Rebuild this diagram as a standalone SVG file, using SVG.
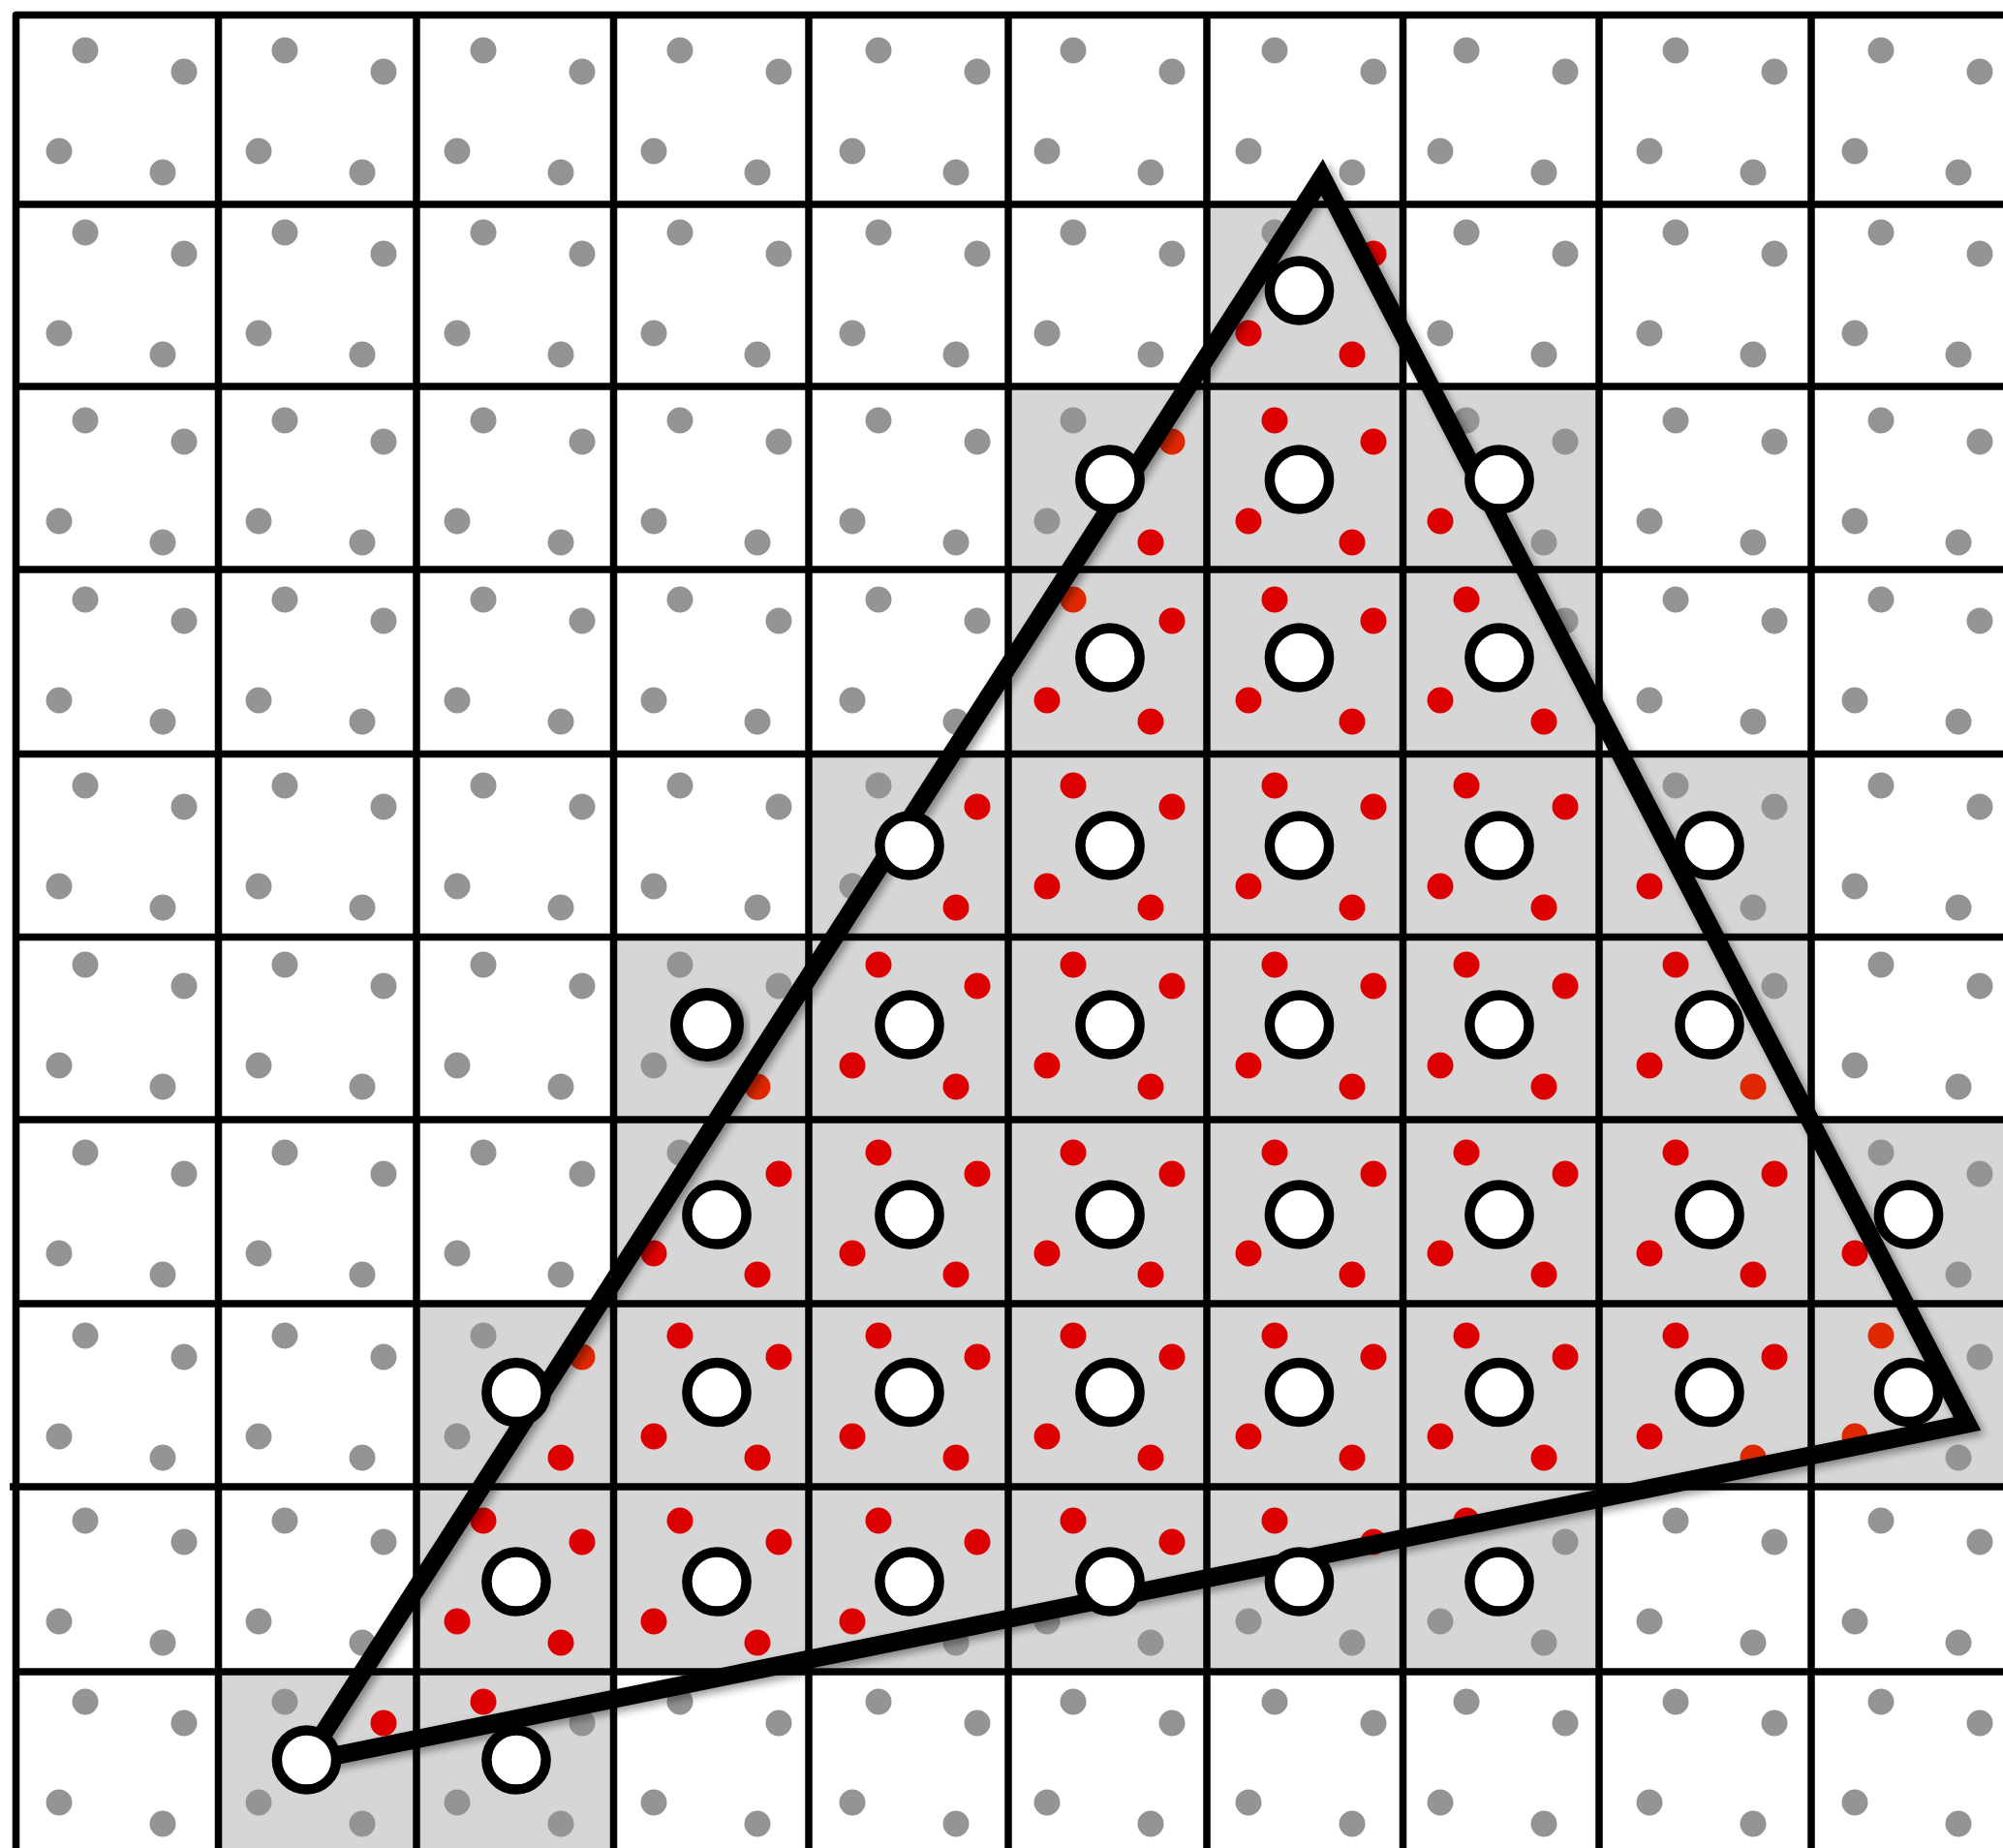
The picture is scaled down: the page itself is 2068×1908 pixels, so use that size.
<svg xmlns="http://www.w3.org/2000/svg" width="2068" height="1908" viewBox="0 0 2068 1908">
<style>
.g{fill:#949494}
.r{fill:#dd0000}
.o{fill:#e02800}
.shade{fill:#d6d6d6}
.grid{fill:none;stroke:#000;stroke-width:7.5;stroke-linejoin:round}
.tri{fill:none;stroke:#000;stroke-width:19;stroke-linejoin:miter;stroke-miterlimit:10}
.px{fill:#fff;stroke:#000;stroke-width:10.5}
</style>
<defs>
<g id="q"><circle cx="0" cy="0" r="13.5"/><circle cx="102" cy="22" r="13.5"/><circle cx="-27" cy="104" r="13.5"/><circle cx="80" cy="126" r="13.5"/></g>
<filter id="sh" x="-10%" y="-10%" width="130%" height="130%"><feDropShadow dx="4" dy="4" stdDeviation="4" flood-color="#000" flood-opacity="0.4"/></filter>
</defs>
<rect width="2068" height="1908" fill="#fff"/>
<g id="shading" class="shade">
<rect x="1246" y="211" width="202.5" height="188"/>
<rect x="1041" y="399" width="610" height="189"/>
<rect x="1041" y="588" width="610" height="190.5"/>
<rect x="835" y="778.5" width="1035" height="189"/>
<rect x="633.5" y="967.5" width="1236.5" height="188.5"/>
<rect x="633.5" y="1156" width="1434.5" height="190"/>
<rect x="430" y="1346" width="1638" height="189"/>
<rect x="430" y="1535" width="1221" height="191"/>
<rect x="225.5" y="1726" width="408" height="182"/>
</g>
<g id="grid" class="grid">
<path d="M16.5,1908 V15.5 H2068"/>
<path d="M16.5,211 H2068 M16.5,399 H2068 M16.5,588 H2068 M16.5,778.5 H2068 M16.5,967.5 H2068 M16.5,1156 H2068 M16.5,1346 H2068 M10,1535 H2068 M16.5,1726 H2068"/>
<path d="M225.5,15.5 V1908 M430,15.5 V1908 M633.5,15.5 V1908 M835,15.5 V1908 M1041,15.5 V1908 M1246,15.5 V1908 M1448.5,15.5 V1908 M1651,15.5 V1908 M1870,15.5 V1908"/>
</g>
<g id="samples">
<!-- row 0 -->
<use href="#q" class="g" x="88" y="52"/><use href="#q" class="g" x="294" y="52"/><use href="#q" class="g" x="499" y="52"/><use href="#q" class="g" x="702" y="52"/><use href="#q" class="g" x="907" y="52"/><use href="#q" class="g" x="1108" y="52"/><use href="#q" class="g" x="1316" y="52"/><use href="#q" class="g" x="1514" y="52"/><use href="#q" class="g" x="1730" y="52"/><use href="#q" class="g" x="1942" y="52"/>
<!-- row 1 -->
<use href="#q" class="g" x="88" y="240"/><use href="#q" class="g" x="294" y="240"/><use href="#q" class="g" x="499" y="240"/><use href="#q" class="g" x="702" y="240"/><use href="#q" class="g" x="907" y="240"/><use href="#q" class="g" x="1108" y="240"/>
<circle class="g" cx="1316" cy="240" r="13.5"/><circle class="r" cx="1418" cy="262" r="13.5"/><circle class="r" cx="1289" cy="344" r="13.5"/><circle class="r" cx="1396" cy="366" r="13.5"/>
<use href="#q" class="g" x="1514" y="240"/><use href="#q" class="g" x="1730" y="240"/><use href="#q" class="g" x="1942" y="240"/>
<!-- row 2 -->
<use href="#q" class="g" x="88" y="434"/><use href="#q" class="g" x="294" y="434"/><use href="#q" class="g" x="499" y="434"/><use href="#q" class="g" x="702" y="434"/><use href="#q" class="g" x="907" y="434"/>
<circle class="g" cx="1108" cy="434" r="13.5"/><circle class="o" cx="1210" cy="456" r="13.5"/><circle class="g" cx="1081" cy="538" r="13.5"/><circle class="r" cx="1188" cy="560" r="13.5"/>
<use href="#q" class="r" x="1316" y="434"/>
<circle class="g" cx="1514" cy="434" r="13.5"/><circle class="g" cx="1616" cy="456" r="13.5"/><circle class="r" cx="1487" cy="538" r="13.5"/><circle class="g" cx="1594" cy="560" r="13.5"/>
<use href="#q" class="g" x="1730" y="434"/><use href="#q" class="g" x="1942" y="434"/>
<!-- row 3 -->
<use href="#q" class="g" x="88" y="619"/><use href="#q" class="g" x="294" y="619"/><use href="#q" class="g" x="499" y="619"/><use href="#q" class="g" x="702" y="619"/><use href="#q" class="g" x="907" y="619"/>
<circle class="o" cx="1108" cy="619" r="13.5"/><circle class="r" cx="1210" cy="641" r="13.5"/><circle class="r" cx="1081" cy="723" r="13.5"/><circle class="r" cx="1188" cy="745" r="13.5"/>
<use href="#q" class="r" x="1316" y="619"/>
<circle class="r" cx="1514" cy="619" r="13.5"/><circle class="g" cx="1616" cy="641" r="13.5"/><circle class="r" cx="1487" cy="723" r="13.5"/><circle class="r" cx="1594" cy="745" r="13.5"/>
<use href="#q" class="g" x="1730" y="619"/><use href="#q" class="g" x="1942" y="619"/>
<!-- row 4 -->
<use href="#q" class="g" x="88" y="811"/><use href="#q" class="g" x="294" y="811"/><use href="#q" class="g" x="499" y="811"/><use href="#q" class="g" x="702" y="811"/>
<circle class="g" cx="907" cy="811" r="13.5"/><circle class="r" cx="1009" cy="833" r="13.5"/><circle class="g" cx="880" cy="915" r="13.5"/><circle class="r" cx="987" cy="937" r="13.5"/>
<use href="#q" class="r" x="1108" y="811"/><use href="#q" class="r" x="1316" y="811"/><use href="#q" class="r" x="1514" y="811"/>
<circle class="g" cx="1730" cy="811" r="13.5"/><circle class="g" cx="1832" cy="833" r="13.5"/><circle class="r" cx="1703" cy="915" r="13.5"/><circle class="g" cx="1810" cy="937" r="13.5"/>
<use href="#q" class="g" x="1942" y="811"/>
<!-- row 5 -->
<use href="#q" class="g" x="88" y="996"/><use href="#q" class="g" x="294" y="996"/><use href="#q" class="g" x="499" y="996"/>
<circle class="g" cx="702" cy="996" r="13.5"/><circle class="g" cx="804" cy="1018" r="13.5"/><circle class="g" cx="675" cy="1100" r="13.5"/><circle class="o" cx="782" cy="1122" r="13.5"/>
<use href="#q" class="r" x="907" y="996"/><use href="#q" class="r" x="1108" y="996"/><use href="#q" class="r" x="1316" y="996"/><use href="#q" class="r" x="1514" y="996"/>
<circle class="r" cx="1730" cy="996" r="13.5"/><circle class="g" cx="1832" cy="1018" r="13.5"/><circle class="r" cx="1703" cy="1100" r="13.5"/><circle class="o" cx="1810" cy="1122" r="13.5"/>
<use href="#q" class="g" x="1942" y="996"/>
<!-- row 6 -->
<use href="#q" class="g" x="88" y="1190"/><use href="#q" class="g" x="294" y="1190"/><use href="#q" class="g" x="499" y="1190"/>
<circle class="g" cx="702" cy="1190" r="13.5"/><circle class="r" cx="804" cy="1212" r="13.5"/><circle class="r" cx="675" cy="1294" r="13.5"/><circle class="r" cx="782" cy="1316" r="13.5"/>
<use href="#q" class="r" x="907" y="1190"/><use href="#q" class="r" x="1108" y="1190"/><use href="#q" class="r" x="1316" y="1190"/><use href="#q" class="r" x="1514" y="1190"/><use href="#q" class="r" x="1730" y="1190"/>
<circle class="g" cx="1942" cy="1190" r="13.5"/><circle class="g" cx="2044" cy="1212" r="13.5"/><circle class="r" cx="1915" cy="1294" r="13.5"/><circle class="g" cx="2022" cy="1316" r="13.5"/>
<!-- row 7 -->
<use href="#q" class="g" x="88" y="1379"/><use href="#q" class="g" x="294" y="1379"/>
<circle class="g" cx="499" cy="1379" r="13.5"/><circle class="o" cx="601" cy="1401" r="13.5"/><circle class="g" cx="472" cy="1483" r="13.5"/><circle class="r" cx="579" cy="1505" r="13.5"/>
<use href="#q" class="r" x="702" y="1379"/><use href="#q" class="r" x="907" y="1379"/><use href="#q" class="r" x="1108" y="1379"/><use href="#q" class="r" x="1316" y="1379"/><use href="#q" class="r" x="1514" y="1379"/>
<circle class="r" cx="1730" cy="1379" r="13.5"/><circle class="r" cx="1832" cy="1401" r="13.5"/><circle class="r" cx="1703" cy="1483" r="13.5"/><circle class="o" cx="1810" cy="1505" r="13.5"/>
<circle class="o" cx="1942" cy="1379" r="13.5"/><circle class="g" cx="2044" cy="1401" r="13.5"/><circle class="o" cx="1915" cy="1483" r="13.5"/><circle class="g" cx="2022" cy="1505" r="13.5"/>
<!-- row 8 -->
<use href="#q" class="g" x="88" y="1570"/><use href="#q" class="g" x="294" y="1570"/>
<use href="#q" class="r" x="499" y="1570"/><use href="#q" class="r" x="702" y="1570"/>
<circle class="r" cx="907" cy="1570" r="13.5"/><circle class="r" cx="1009" cy="1592" r="13.5"/><circle class="r" cx="880" cy="1674" r="13.5"/><circle class="g" cx="987" cy="1696" r="13.5"/>
<circle class="r" cx="1108" cy="1570" r="13.5"/><circle class="r" cx="1210" cy="1592" r="13.5"/><circle class="g" cx="1081" cy="1674" r="13.5"/><circle class="g" cx="1188" cy="1696" r="13.5"/>
<circle class="r" cx="1316" cy="1570" r="13.5"/><circle class="r" cx="1418" cy="1592" r="13.5"/><circle class="g" cx="1289" cy="1674" r="13.5"/><circle class="g" cx="1396" cy="1696" r="13.5"/>
<circle class="r" cx="1514" cy="1570" r="13.5"/><circle class="g" cx="1616" cy="1592" r="13.5"/><circle class="g" cx="1487" cy="1674" r="13.5"/><circle class="g" cx="1594" cy="1696" r="13.5"/>
<use href="#q" class="g" x="1730" y="1570"/><use href="#q" class="g" x="1942" y="1570"/>
<!-- row 9 -->
<use href="#q" class="g" x="88" y="1757"/>
<circle class="g" cx="294" cy="1757" r="13.5"/><circle class="r" cx="396" cy="1779" r="13.5"/><circle class="g" cx="267" cy="1861" r="13.5"/><circle class="g" cx="374" cy="1883" r="13.5"/>
<circle class="r" cx="499" cy="1757" r="13.5"/><circle class="g" cx="601" cy="1779" r="13.5"/><circle class="g" cx="472" cy="1861" r="13.5"/><circle class="g" cx="579" cy="1883" r="13.5"/>
<use href="#q" class="g" x="702" y="1757"/><use href="#q" class="g" x="907" y="1757"/><use href="#q" class="g" x="1108" y="1757"/><use href="#q" class="g" x="1316" y="1757"/><use href="#q" class="g" x="1514" y="1757"/><use href="#q" class="g" x="1730" y="1757"/><use href="#q" class="g" x="1942" y="1757"/>
</g>
<g id="triangle">
<polygon class="tri" points="1365,183 2031,1470 315,1819" filter="url(#sh)"/>
</g>
<g id="pixels" class="px">
<circle cx="1341.5" cy="300" r="30.6"/>
<circle cx="1146" cy="495" r="30.6"/><circle cx="1341.5" cy="495" r="30.6"/><circle cx="1548" cy="495" r="30.6"/>
<circle cx="1146" cy="679" r="30.6"/><circle cx="1341.5" cy="679" r="30.6"/><circle cx="1548" cy="679" r="30.6"/>
<circle cx="939" cy="873" r="30.6"/><circle cx="1146" cy="873" r="30.6"/><circle cx="1341.5" cy="873" r="30.6"/><circle cx="1548" cy="873" r="30.6"/><circle cx="1765" cy="873" r="30.6"/>
<circle cx="730" cy="1058" r="31.5" stroke-width="13" filter="url(#sh)"/><circle cx="939" cy="1058" r="30.6"/><circle cx="1146" cy="1058" r="30.6"/><circle cx="1341.5" cy="1058" r="30.6"/><circle cx="1548" cy="1058" r="30.6"/><circle cx="1765" cy="1058" r="30.6"/>
<circle cx="740" cy="1254" r="30.6"/><circle cx="939" cy="1254" r="30.6"/><circle cx="1146" cy="1254" r="30.6"/><circle cx="1341.5" cy="1254" r="30.6"/><circle cx="1548" cy="1254" r="30.6"/><circle cx="1765" cy="1254" r="30.6"/><circle cx="1970.5" cy="1254" r="30.6"/>
<circle cx="533" cy="1437.5" r="30.6"/><circle cx="740" cy="1437.5" r="30.6"/><circle cx="939" cy="1437.5" r="30.6"/><circle cx="1146" cy="1437.5" r="30.6"/><circle cx="1341.5" cy="1437.5" r="30.6"/><circle cx="1548" cy="1437.5" r="30.6"/><circle cx="1765" cy="1437.5" r="30.6"/><circle cx="1970.5" cy="1437.5" r="30.6"/>
<circle cx="533" cy="1633" r="30.6"/><circle cx="740" cy="1633" r="30.6"/><circle cx="939" cy="1633" r="30.6"/><circle cx="1146" cy="1633" r="30.6"/><circle cx="1341.5" cy="1633" r="30.6"/><circle cx="1548" cy="1633" r="30.6"/>
<circle cx="316.5" cy="1817" r="30.6"/><circle cx="533" cy="1817" r="30.6"/>
</g>
</svg>
